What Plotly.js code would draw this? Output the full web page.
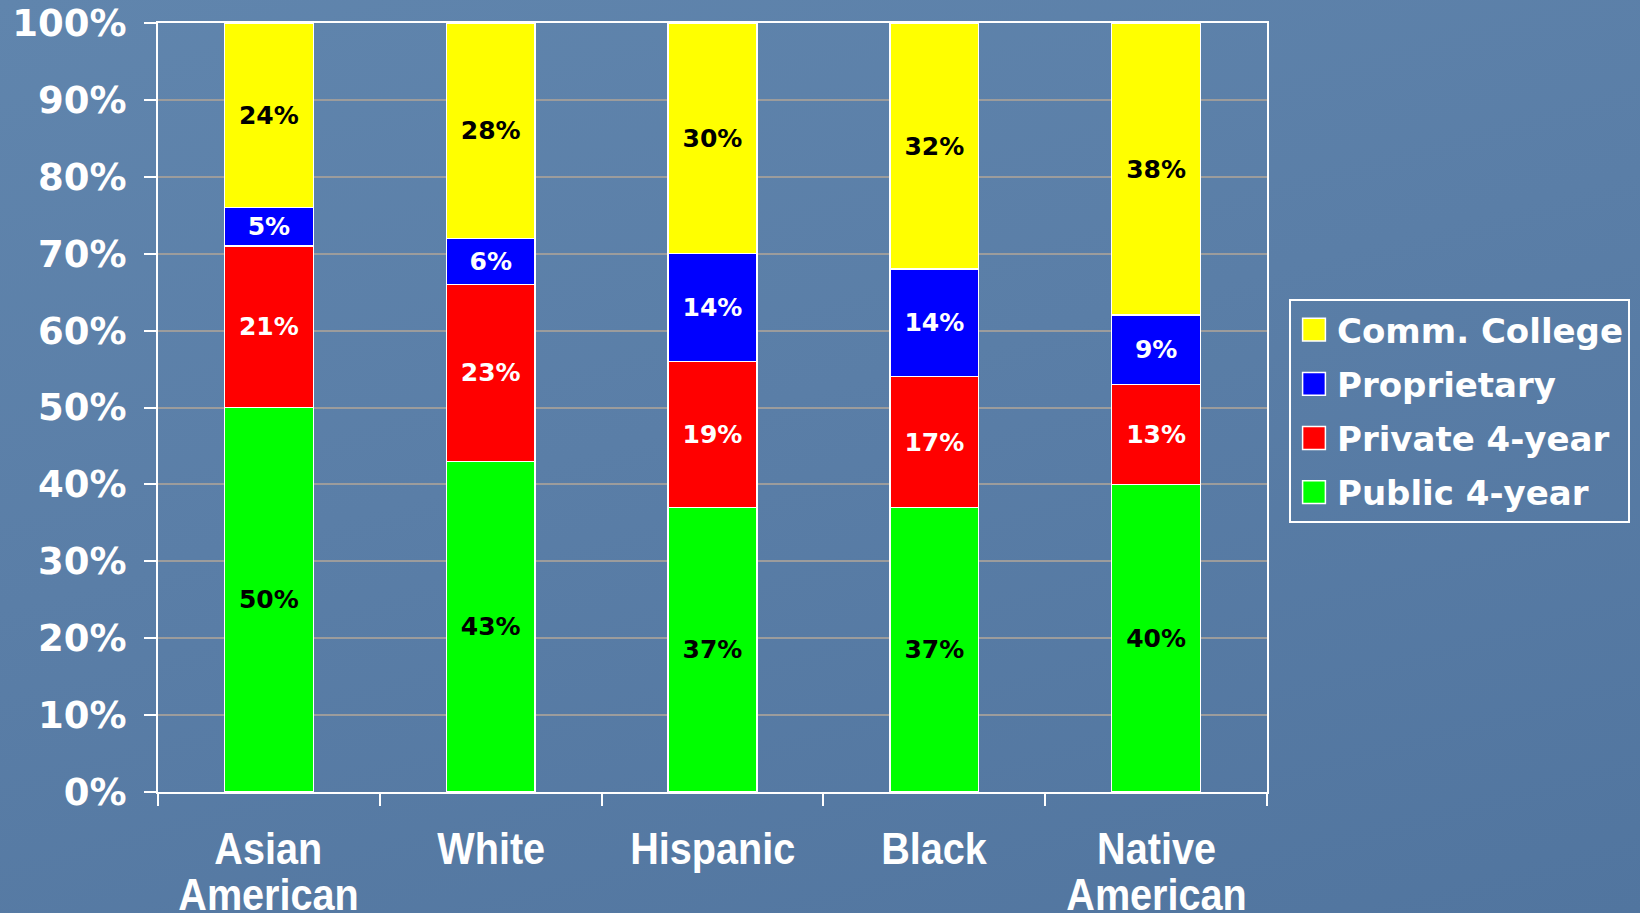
<!DOCTYPE html>
<html><head><meta charset="utf-8">
<script src="https://cdn.plot.ly/plotly-3.0.1.min.js"></script>
<style>
html,body{margin:0;padding:0;background:#5a7ea7;}
#chart{width:1640px;height:913px;background:linear-gradient(165deg,#6085ad 0%,#5a7ea7 45%,#51759f 100%);}
</style>
</head><body><div id="chart"></div>
<script>
const categories = ['Asian<br>American', 'White', 'Hispanic', 'Black', 'Native<br>American'];
const seriesNames = ['Public 4-year', 'Private 4-year', 'Proprietary', 'Comm. College'];
const public4 = [50, 43, 37, 37, 40];
const private4 = [21, 23, 19, 17, 13];
const proprietary = [5, 6, 14, 14, 9];
const commCollege = [24, 28, 30, 32, 38];
const seriesColors = ['#00ff00', '#ff0000', '#0000ff', '#ffff00'];
const labelColors = ['#000000', '#ffffff', '#ffffff', '#000000'];
const legendRanks = [4, 3, 2, 1];
const yTickVals = [0, 10, 20, 30, 40, 50, 60, 70, 80, 90, 100];
const yTickText = ['0%', '10%', '20%', '30%', '40%', '50%', '60%', '70%', '80%', '90%', '100%'];

const seriesValues = [public4, private4, proprietary, commCollege];
const boldFont = 'DejaVu Sans, Verdana, sans-serif';
const narrowFont = 'Liberation Sans, Arial, sans-serif';

const traces = seriesValues.map((vals, k) => ({
  type: 'bar',
  name: seriesNames[k],
  legendgroup: seriesNames[k],
  legendrank: legendRanks[k],
  x: categories,
  y: vals,
  text: vals.map(v => v + '%'),
  textposition: 'inside',
  insidetextanchor: 'middle',
  textangle: 0,
  constraintext: 'none',
  textfont: {family: boldFont, size: 25, color: labelColors[k], weight: 'bold'},
  marker: {color: seriesColors[k], line: {color: '#ffffff', width: 1.5}},
  hoverinfo: 'skip'
}));

const annotations = [];
categories.forEach((c, i) => {
  c.split('<br>').forEach((line, j) => {
    annotations.push({
      x: c, xref: 'x', y: 0, yref: 'paper', yanchor: 'middle', xanchor: 'center',
      yshift: -56 - 46 * j, text: line, showarrow: false,
      font: {family: narrowFont, size: 45, color: '#ffffff', weight: 'bold'}
    });
  });
});

const layout = {
  width: 1640, height: 913,
  margin: {l: 158, r: 373, t: 23, b: 121},
  paper_bgcolor: 'rgba(0,0,0,0)',
  plot_bgcolor: 'rgba(0,0,0,0)',
  barmode: 'stack',
  bargap: 0.6,
  xaxis: {
    type: 'category', range: [-0.5, 4.5], tickson: 'boundaries',
    ticks: 'outside', ticklen: 12, tickwidth: 2, tickcolor: '#ffffff',
    showline: true, linecolor: '#ffffff', linewidth: 2, mirror: true,
    showgrid: false, showticklabels: false, fixedrange: true
  },
  yaxis: {
    range: [0, 100], tickvals: yTickVals, ticktext: yTickText,
    ticks: 'outside', ticklen: 12, tickwidth: 2, tickcolor: '#ffffff',
    ticklabelstandoff: 10,
    showline: true, linecolor: '#ffffff', linewidth: 2, mirror: true,
    showgrid: true, gridcolor: '#9c9c9c', gridwidth: 2, zeroline: false,
    tickfont: {family: boldFont, size: 37, color: '#ffffff', weight: 'bold'},
    fixedrange: true
  },
  legend: {
    xref: 'container', yref: 'container', x: 1289 / 1640, y: 1 - 299 / 913,
    xanchor: 'left', yanchor: 'top',
    bgcolor: 'rgba(0,0,0,0)', bordercolor: '#ffffff', borderwidth: 2,
    font: {family: boldFont, size: 34, color: '#ffffff', weight: 'bold'},
    traceorder: 'grouped', tracegroupgap: 7, itemwidth: 36
  },
  annotations: annotations,
  showlegend: true
};

Plotly.newPlot('chart', traces, layout, {displayModeBar: false, staticPlot: true}).then(() => {
  document.querySelectorAll('#chart .legendpoints path').forEach(p => {
    const t = p.getAttribute('transform') || '';
    p.setAttribute('transform', t + ' scale(1.9)');
    p.style.vectorEffect = 'non-scaling-stroke';
  });
  document.querySelectorAll('#chart .annotation-text').forEach(t => {
    t.style.transformBox = 'fill-box';
    t.style.transformOrigin = 'center';
    t.style.transform = 'scaleX(0.88)';
  });
});
</script>
</body></html>
